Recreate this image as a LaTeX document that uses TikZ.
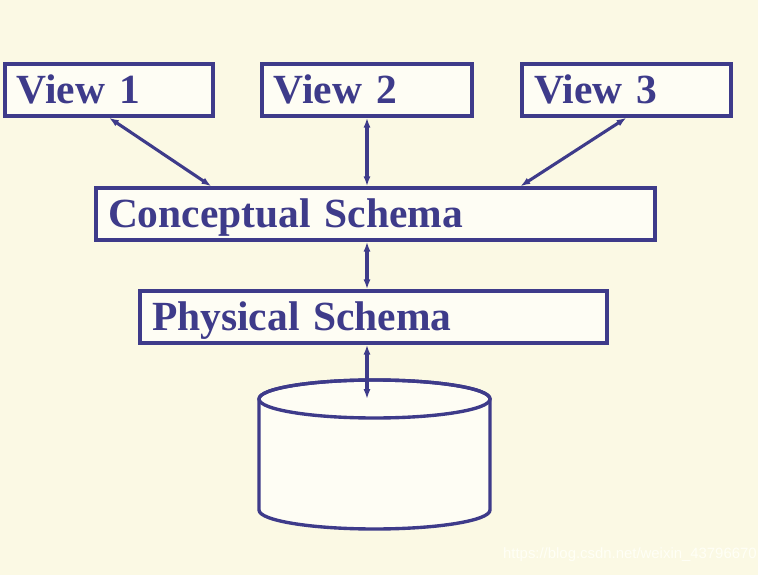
\documentclass[tikz,border=0pt]{standalone}
\usepackage{fontspec}
\setmainfont{Liberation Serif}
\newfontfamily\marksans{Liberation Sans}
\usepackage{tikz}
\usetikzlibrary{arrows.meta,calc,positioning}
\definecolor{paper}{HTML}{FBF9E4}
\definecolor{boxfill}{HTML}{FEFDF4}
\definecolor{navy}{HTML}{3E3B8A}
\definecolor{mark}{HTML}{FFFFF6}

\begin{document}
\begin{tikzpicture}[x=0.025cm,y=0.025cm,>={Latex[length=7pt,width=5pt]},
    layer/.style={draw=navy,line width=2.4pt,fill=boxfill,text=navy,
      font=\fontsize{29.5}{32}\bfseries,inner xsep=0.3cm,inner ysep=0pt,
      minimum height=1.3cm,align=left,text height=19.5pt,text depth=0pt},
    link/.style={<->,navy,line width=2.2pt}]
      \useasboundingbox (0,0) rectangle (772,575);
      \fill[paper] (0,0) rectangle (758,575);
      \fill[white] (758,0) rectangle (772,575);
      % external level
      \node[layer,text width=4.6cm] (v1) at (109,485) {View 1};
      \node[layer,text width=4.65cm] (v2) at (367,485) {View 2};
      \node[layer,text width=4.62cm] (v3) at (626.5,485) {View 3};
      % logical and physical level
      \node[layer,text width=13.37cm] (cs) at (375.5,361) {Conceptual Schema};
      \node[layer,text width=11.07cm] (ps) at (373.5,258) {Physical Schema};
      % disk
      \draw[navy,line width=2.4pt,fill=boxfill] (259,176) -- (259,65)
        arc[start angle=180,end angle=360,x radius=115.5,y radius=19] -- (490,176)
        arc[start angle=0,end angle=180,x radius=115.5,y radius=19];
      \draw[navy,line width=2.4pt] (374.5,176) ellipse [x radius=115.5,y radius=19];
      \coordinate (db) at (374.5,176);
      \draw[link] (v1.south) -- ($(cs.north west)+(117,0)$);
      \draw[link] (v2.south) -- (v2.south |- cs.north);
      \draw[link] (v3.south) -- ($(cs.north west)+(426,0)$);
      \draw[link] (v2.south |- cs.south) -- (v2.south |- ps.north);
      \draw[link] (v2.south |- ps.south) -- (v2.south |- db);
      \node[anchor=east,inner sep=0pt,text=mark,font=\marksans\fontsize{10.6}{13}\selectfont] (wm) at (757,20) {https://blog.csdn.net/weixin\_43796670};
    \end{tikzpicture}
\end{document}
